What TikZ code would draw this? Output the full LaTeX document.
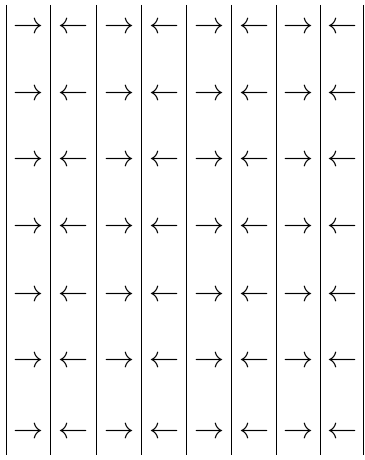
\documentclass[tikz,border=0pt]{standalone}
\usepackage{amssymb}
\usepackage{tikz}

\begin{document}
\begin{tikzpicture}[x=0.35pt, y=-0.35pt]
  \useasboundingbox (0,0) rectangle (365,460);
  \foreach \x in {6.3,50.7,96.7,141.7,186.7,231.7,276.7,320.7,363.3} {
    \draw[line width=0.45pt] (\x,5) -- (\x,455);
  }
  \foreach \y [count=\r] in {27.5,94.5,161,228,296,362,433} {
    \foreach \x/\sym [count=\c] in {28.3/\rightarrow,73.7/\leftarrow,119.2/\rightarrow,164.2/\leftarrow,209.2/\rightarrow,254.2/\leftarrow,298.7/\rightarrow,342/\leftarrow} {
      \node[inner sep=0pt, scale=1.05] (a\r-\c) at (\x,\y) {$\sym$};
    }
  }
\end{tikzpicture}
\end{document}
